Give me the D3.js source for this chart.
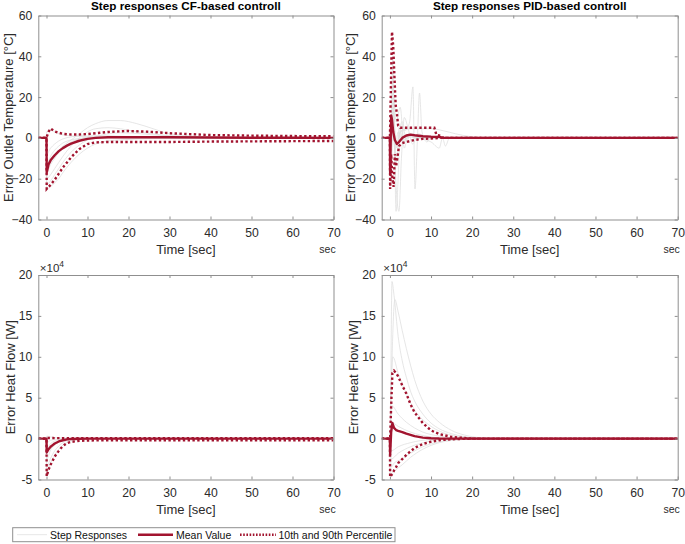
<!DOCTYPE html>
<html><head><meta charset="utf-8">
<script src="https://cdn.jsdelivr.net/npm/d3@7/dist/d3.min.js"></script>
<style>
body{margin:0;background:#fff}
svg{display:block}
text{font-family:"Liberation Sans",Arial,Helvetica,sans-serif}
</style>
</head><body>
<svg id="c" width="685" height="544"></svg>
<script>
// ---------------- DATA ----------------
const titles = ["Step responses CF-based controll", "Step responses PID-based controll"];
const xLabel = "Time [sec]";
const xUnit = "sec";
const yLabelTemp = "Error Outlet Temperature [°C]";
const yLabelHeat = "Error Heat Flow [W]";
const xTickValues = [0, 10, 20, 30, 40, 50, 60, 70];
const tempTickValues = [-40, -20, 0, 20, 40, 60];
const heatTickValues = [-50000, 0, 50000, 100000, 150000, 200000];
const heatExponent = 4;
const legendLabels = ["Step Responses", "Mean Value", "10th and 90th Percentile"];

// CF-based, outlet temperature error [°C]
const cfTempTime = [-2, 0, 0.05, 0.5, 1, 2, 3, 4, 5, 6, 8, 10, 12, 15, 20, 25, 30, 40, 50, 60, 70];
const cfTempMean = [0, 0, -17, -13, -11, -8.5, -6.5, -5, -3.8, -2.8, -1.4, -0.5, 0, 0.3, 0.3, 0.3, 0.3, 0.2, 0.1, 0.05, 0];
const cfTempP90  = [0, 0, 0.5, 3, 4.6, 3.2, 2.5, 2, 1.8, 1.7, 1.7, 1.9, 2.3, 2.9, 3.4, 3, 2.3, 1.4, 1.1, 0.9, 0.8];
const cfTempP10  = [0, 0, -25, -24, -23, -20.5, -17.5, -14.5, -12, -9.5, -5.5, -3, -2.2, -2, -2, -2, -2, -1.8, -1.7, -1.6, -1.5];
const cfTempRuns = [
  [[-2,0],[0,0],[0.05,-12],[1,-10],[2,-8],[3,-6],[4,-4],[6,-1],[8,2],[10,5],[12,7],[15,8.5],[18,8.5],[22,7],[26,4.5],[30,2],[40,0.5],[50,0],[70,0]],
  [[-2,0],[0,0],[0.05,-20],[1,-18],[2,-15],[3,-12],[4,-9],[6,-4],[8,0],[10,3],[12,4.5],[15,5],[18,4.5],[22,3],[26,2],[30,1],[40,0.3],[50,0],[70,0]],
  [[-2,0],[0,0],[0.05,-17],[1,-13],[2,-10],[3,-7],[4,-5],[6,-2],[8,-0.5],[10,0.5],[12,1],[15,1],[18,0.8],[22,0.5],[26,0.3],[30,0],[70,0]],
  [[-2,0],[0,0],[0.05,-23],[1,-21],[2,-18],[3,-15],[4,-12],[6,-7],[8,-3.5],[10,-1],[12,0.5],[15,2],[18,2.5],[22,2.2],[26,1.5],[30,1],[40,0.3],[50,0],[70,0]],
  [[-2,0],[0,0],[0.05,-8],[1,-5],[2,-3],[3,-1.5],[4,-0.5],[6,0.5],[8,1],[10,1],[12,0.8],[15,0.5],[18,0.3],[22,0.2],[26,0.1],[30,0],[70,0]],
  [[-2,0],[0,0],[0.05,-14],[1,-9],[2,-6],[3,-4],[4,-2.5],[6,-1],[8,-0.3],[10,0],[70,0]],
  [[-2,0],[0,0],[0.05,-25],[1,-24],[2,-22],[3,-20],[4,-17],[6,-12],[8,-8],[10,-5],[12,-3],[15,-1.5],[18,-1],[22,-0.5],[26,-0.3],[30,-0.1],[40,0],[70,0]],
  [[-2,0],[0,0],[0.05,3],[1,4],[2,3],[3,2],[4,1.5],[6,1],[8,0.8],[10,0.5],[12,0.3],[15,0.2],[18,0.1],[22,0],[70,0]]
];

// PID-based, outlet temperature error [°C]
const pidTempMeanTime = [-2, 0, 0.05, 0.3, 0.5, 0.8, 1.2, 1.7, 2.2, 3, 4, 5, 6, 8, 10, 12, 13, 15, 70];
const pidTempMean     = [0, 0, -17, 11, 9, 3, -1, -3, -2, 0, 1.2, 1.6, 1.3, 0.8, 0.6, 0.5, 0, 0, 0];
const pidTempP90Time  = [-2, 0, 0.1, 0.5, 0.8, 1.1, 1.4, 1.7, 2.0, 2.5, 4, 8, 10.8, 11.3, 12.5, 13, 70];
const pidTempP90      = [0, 0, 10, 52, 45, 30, 16, 12, 6, 5, 5, 5, 5, 1.5, 1, 0, 0];
const pidTempP10Time  = [-2, 0, 0.05, 0.3, 0.6, 0.9, 1.2, 1.5, 1.8, 2.2, 3, 4, 5, 6, 8, 10, 12, 15, 70];
const pidTempP10      = [0, 0, -25, -8, -20, -24, -8, -14, -10, -4, -2.5, -2, -1.5, -1, -0.5, -0.3, 0, 0, 0];
const pidTempRuns = [
  [[-2,0],[0,0],[0.2,-10],[0.6,30],[1.0,10],[1.5,-36],[2.0,-20],[2.5,5],[3,8],[3.5,3],[4,-2],[5,2],[6,1],[7,0],[70,0]],
  [[-2,0],[0,0],[0.3,-20],[0.7,25],[1.2,-10],[2.2,-36],[2.8,-10],[3.5,10],[4.5,4],[5.5,-3],[7,2],[9,0],[70,0]],
  [[-2,0],[0,0],[0.3,-8],[0.8,12],[1.5,-5],[2.5,3],[4,4],[4.8,8],[5.6,25],[6.1,-25],[6.7,0],[7.2,22],[7.8,3],[9,-2],[10,0],[70,0]],
  [[-2,0],[0,0],[0.3,-15],[0.8,15],[1.5,-3],[3,4],[6,4.5],[10,4.5],[13,3.5],[16,2],[20,0.5],[23,0],[70,0]],
  [[-2,0],[0,0],[0.2,-12],[0.6,10],[1.2,-6],[2,3],[3,-1],[5,0.5],[10,-2],[12,-5],[12.8,0],[13.5,-4],[14.5,0],[70,0]],
  [[-2,0],[0,0],[0.3,-5],[0.9,20],[1.5,8],[2.5,15],[3.5,-5],[4.5,2],[6,0],[70,0]],
  [[-2,0],[0,0],[0.2,-22],[0.7,40],[1.1,5],[1.6,-12],[2.3,6],[3.2,-2],[4.5,1],[6,0],[70,0]]
];

// CF-based, heat flow error [W]
const cfHeatTime = [-2, 0, 0.05, 0.5, 1, 1.5, 2, 3, 4, 5, 6, 8, 10, 15, 20, 30, 40, 50, 60, 70];
const cfHeatMean = [0, 0, -17000, -13000, -10000, -8000, -6000, -3500, -2000, -1000, -500, -100, 0, 0, 0, 0, 0, 0, 0, 0];
const cfHeatP90  = [0, 0, 700, 700, 700, 700, 600, 600, 600, 600, 600, 600, 600, 600, 600, 600, 600, 600, 600, 600];
const cfHeatP10  = [0, 0, -46000, -38000, -32000, -27000, -22000, -15000, -9000, -5500, -4000, -2800, -2300, -2000, -2000, -2000, -2000, -2000, -2000, -2000];
const cfHeatRuns = [
  [[-2,0],[0,0],[0.05,-35000],[1,-24000],[2,-15000],[3,-9000],[4,-5000],[6,-1500],[8,-300],[10,0],[70,0]],
  [[-2,0],[0,0],[0.05,-25000],[1,-14000],[2,-8000],[3,-4500],[5,-1500],[8,-200],[10,0],[70,0]],
  [[-2,0],[0,0],[0.05,-12000],[1,-6000],[2,-3000],[4,-800],[7,0],[70,0]],
  [[-2,0],[0,0],[0.05,-5000],[1,-2000],[3,-500],[6,0],[70,0]],
  [[-2,0],[0,0],[0.05,3000],[1,2000],[3,800],[6,200],[10,0],[70,0]],
  [[-2,0],[0,0],[0.05,-42000],[1,-30000],[2,-20000],[3,-13000],[4,-8000],[6,-3000],[8,-1200],[10,-500],[14,0],[70,0]]
];

// PID-based, heat flow error [W]
const pidHeatTime = [-2, 0, 0.05, 0.3, 0.6, 1, 1.5, 2, 3, 4, 5, 6, 8, 10, 12, 15, 20, 25, 70];
const pidHeatMean = [0, 0, -20000, 8000, 19000, 13000, 10500, 9500, 8000, 6000, 4500, 3000, 1200, 400, 100, 0, 0, 0, 0];
const pidHeatP90  = [0, 0, 0, 40000, 80000, 83000, 80000, 76000, 65000, 55000, 42000, 32000, 19000, 10000, 5500, 2000, 0, 0, 0];
const pidHeatP10  = [0, 0, -47000, -45000, -43000, -39000, -35000, -30000, -25000, -20000, -15500, -11500, -6500, -3800, -2000, -800, 0, 0, 0];
const pidHeatRuns = [
  [[-2,0],[0,0],[0.05,0],[0.5,192000],[1,175000],[2,125000],[3,95000],[4,75000],[5,58000],[6,46000],[8,30000],[10,19000],[12,12000],[15,6000],[18,2500],[22,0],[70,0]],
  [[-2,0],[0,0],[0.3,60000],[1.2,170000],[2,155000],[3,132000],[4,110000],[5,90000],[6,72000],[8,46000],[10,30000],[12,20000],[15,10000],[18,4500],[22,1000],[25,0],[70,0]],
  [[-2,0],[0,0],[0.3,60000],[0.7,100000],[2,80000],[4,55000],[6,35000],[8,23000],[10,15000],[13,7000],[18,2000],[22,0],[70,0]],
  [[-2,0],[0,0],[0.5,40000],[2,30000],[4,20000],[6,13000],[8,8000],[12,3000],[18,0],[70,0]],
  [[-2,0],[0,0],[0.3,-35000],[1,-30000],[3,-25000],[5,-18000],[8,-10000],[12,-4000],[18,0],[70,0]],
  [[-2,0],[0,0],[0.05,-45000],[1,-40000],[3,-32000],[5,-23000],[8,-13000],[12,-5000],[18,-1000],[22,0],[70,0]],
  [[-2,0],[0,0],[0.3,-15000],[2,-10000],[5,-5000],[10,-1000],[15,0],[70,0]],
  [[-2,0],[0,0],[0.3,20000],[2,15000],[5,8000],[10,2000],[15,0],[70,0]],
  [[-2,0],[0,0],[0.3,-25000],[2,-18000],[5,-10000],[9,-4000],[14,-500],[18,0],[70,0]]
];

// ---------------- DRAWING ----------------
const RED = "#A2142F", GRAY = "#e0e0e0", AXC = "#8f8f8f", TXT = "#2b2b2b";
const svg = d3.select("#c");
const zip = (t, v) => t.map((d, i) => [d, v[i]]);

function panel(cfg, idx) {
  const x = d3.scaleLinear().domain([-2, 70]).range([cfg.x0, cfg.x1]);
  const y = d3.scaleLinear().domain(cfg.yDomain).range([cfg.y1, cfg.y0]);
  const g = svg.append("g");
  const cid = "clip" + idx;
  g.append("clipPath").attr("id", cid).append("rect")
    .attr("x", cfg.x0).attr("y", cfg.y0).attr("width", cfg.x1 - cfg.x0).attr("height", cfg.y1 - cfg.y0);
  const plot = g.append("g").attr("clip-path", `url(#${cid})`);
  const line = d3.line().x(d => x(d[0])).y(d => y(d[1]));
  const smooth = d3.line().x(d => x(d[0])).y(d => y(d[1])).curve(d3.curveMonotoneX);

  plot.selectAll("path.run").data(cfg.runs).join("path").attr("class", "run")
    .attr("d", smooth).attr("fill", "none").attr("stroke", GRAY).attr("stroke-width", 0.8);

  [cfg.p90, cfg.p10].forEach(s => {
    plot.append("path").attr("d", line(s)).attr("fill", "none").attr("stroke", RED)
      .attr("stroke-width", 2.4).attr("stroke-dasharray", "2.4,2.4");
  });
  plot.append("path").attr("d", line(cfg.mean)).attr("fill", "none").attr("stroke", RED)
    .attr("stroke-width", 2.4).attr("stroke-linejoin", "round");

  // axes (ticks inward, all four sides)
  const styleAx = sel => {
    sel.select(".domain").attr("stroke", AXC);
    sel.selectAll(".tick line").attr("stroke", AXC);
    sel.selectAll(".tick text").attr("fill", TXT).style("font-size", "12.2px")
      .style("font-family", '"Liberation Sans",Arial,sans-serif');
  };
  g.append("g").attr("transform", `translate(0,${cfg.y1})`)
    .call(d3.axisBottom(x).tickValues(xTickValues).tickSizeInner(-3).tickSizeOuter(0).tickPadding(8.5))
    .call(styleAx);
  g.append("g").attr("transform", `translate(0,${cfg.y0})`)
    .call(d3.axisTop(x).tickValues(xTickValues).tickSizeInner(-3).tickSizeOuter(0).tickFormat(""))
    .call(styleAx);
  g.append("g").attr("transform", `translate(${cfg.x0},0)`)
    .call(d3.axisLeft(y).tickValues(cfg.yTicks).tickSizeInner(-3).tickSizeOuter(0).tickPadding(6).tickFormat(cfg.fmt))
    .call(styleAx);
  g.append("g").attr("transform", `translate(${cfg.x1},0)`)
    .call(d3.axisRight(y).tickValues(cfg.yTicks).tickSizeInner(-3).tickSizeOuter(0).tickFormat(""))
    .call(styleAx);
  g.selectAll(".domain").attr("fill", "none");

  const cx = (cfg.x0 + cfg.x1) / 2;
  if (cfg.title) {
    g.append("text").attr("x", cx).attr("y", cfg.y0 - 5.5).attr("text-anchor", "middle")
      .attr("font-weight", "bold").attr("font-size", "11.7px").attr("fill", "#000").text(cfg.title);
  }
  g.append("text").attr("x", cx).attr("y", cfg.y1 + 34.5).attr("text-anchor", "middle")
    .attr("font-size", "13px").attr("fill", TXT).text(xLabel);
  g.append("text").attr("x", cfg.x1 - 6).attr("y", cfg.y1 + 33.5).attr("text-anchor", "middle")
    .attr("font-size", "10.5px").attr("fill", TXT).text(xUnit);
  g.append("text").attr("transform", `translate(${cfg.ylx},${(cfg.y0 + cfg.y1) / 2}) rotate(-90)`)
    .attr("text-anchor", "middle").attr("font-size", "13px").attr("fill", TXT).text(cfg.ylabel);
  if (cfg.exp) {
    const t = g.append("text").attr("x", cfg.x0 + 1.5).attr("y", cfg.y0 - 3.5)
      .attr("font-size", "11.5px").attr("fill", TXT);
    t.append("tspan").text("×10");
    t.append("tspan").attr("dy", -5).attr("font-size", "8.5px").text(String(cfg.exp));
  }
}

const L = [38.3, 333.5], R = [381.7, 677.7];
const fmtHeat = d => String(d / Math.pow(10, heatExponent));
panel({x0: L[0], x1: L[1], y0: 15.5, y1: 219.5, yDomain: [-40, 60], yTicks: tempTickValues,
  fmt: d3.format("d"), title: titles[0], ylabel: yLabelTemp, ylx: 12.5,
  runs: cfTempRuns, mean: zip(cfTempTime, cfTempMean), p90: zip(cfTempTime, cfTempP90), p10: zip(cfTempTime, cfTempP10)}, 0);
panel({x0: R[0], x1: R[1], y0: 15.5, y1: 219.5, yDomain: [-40, 60], yTicks: tempTickValues,
  fmt: d3.format("d"), title: titles[1], ylabel: yLabelTemp, ylx: 354.5,
  runs: pidTempRuns, mean: zip(pidTempMeanTime, pidTempMean), p90: zip(pidTempP90Time, pidTempP90), p10: zip(pidTempP10Time, pidTempP10)}, 1);
panel({x0: L[0], x1: L[1], y0: 275, y1: 479.5, yDomain: [-50000, 200000], yTicks: heatTickValues,
  fmt: fmtHeat, ylabel: yLabelHeat, ylx: 14.5, exp: heatExponent,
  runs: cfHeatRuns, mean: zip(cfHeatTime, cfHeatMean), p90: zip(cfHeatTime, cfHeatP90), p10: zip(cfHeatTime, cfHeatP10)}, 2);
panel({x0: R[0], x1: R[1], y0: 275, y1: 479.5, yDomain: [-50000, 200000], yTicks: heatTickValues,
  fmt: fmtHeat, ylabel: yLabelHeat, ylx: 358, exp: heatExponent,
  runs: pidHeatRuns, mean: zip(pidHeatTime, pidHeatMean), p90: zip(pidHeatTime, pidHeatP90), p10: zip(pidHeatTime, pidHeatP10)}, 3);

// legend
const lg = svg.append("g");
lg.append("rect").attr("x", 12.7).attr("y", 527.7).attr("width", 382.3).attr("height", 14)
  .attr("fill", "#fff").attr("stroke", AXC).attr("stroke-width", 1);
const ly = 534.7;
lg.append("line").attr("x1", 17).attr("x2", 47).attr("y1", ly).attr("y2", ly).attr("stroke", GRAY).attr("stroke-width", 0.8);
lg.append("line").attr("x1", 138).attr("x2", 173).attr("y1", ly).attr("y2", ly).attr("stroke", RED).attr("stroke-width", 2.4);
lg.append("line").attr("x1", 240).attr("x2", 276).attr("y1", ly).attr("y2", ly).attr("stroke", RED).attr("stroke-width", 2.4).attr("stroke-dasharray", "1.6,1.6");
[[50, legendLabels[0]], [176, legendLabels[1]], [278.5, legendLabels[2]]].forEach(([lx, t]) => {
  lg.append("text").attr("x", lx).attr("y", 538.5).attr("font-size", "10.5px").attr("fill", "#111").text(t);
});
</script>
</body></html>
